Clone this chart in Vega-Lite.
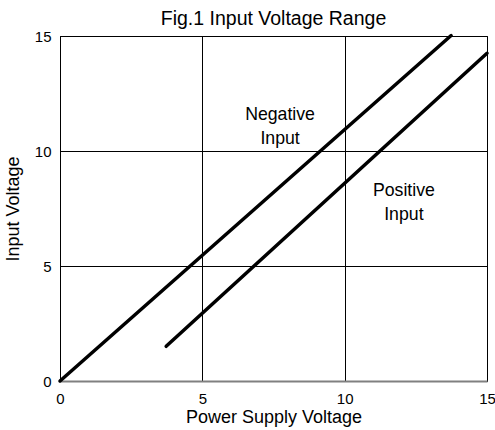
{
  "$schema": "https://vega.github.io/schema/vega-lite/v6.json",
  "width": 427,
  "height": 345,
  "autosize": "none",
  "padding": {"left": 60, "top": 36, "right": 8, "bottom": 49},
  "background": "white",
  "config": {
    "font": "Liberation Sans",
    "view": {"stroke": "black", "strokeWidth": 1},
    "axis": {"grid": true, "gridColor": "black", "gridOpacity": 1, "gridWidth": 1, "labelFont": "Liberation Sans", "titleFont": "Liberation Sans", "labelFontSize": 15, "titleFontSize": 18, "titleFontWeight": "normal", "labelColor": "black", "titleColor": "black", "ticks": false}
  },
  "title": {"text": "Fig.1 Input Voltage Range", "fontSize": 19.5, "fontWeight": "normal", "font": "Liberation Sans", "color": "black", "offset": -1, "anchor": "middle", "frame": "group"},
  "datasets": {
    "lines": [
      {"series": "Negative", "v": 0, "u": 0},
      {"series": "Negative", "v": 13.74, "u": 15.02},
      {"series": "Positive", "v": 3.73, "u": 1.51},
      {"series": "Positive", "v": 15, "u": 14.25}
    ],
    "labels": [
      {"v": 7.73, "u": 11.56, "t": "Negative\nInput"},
      {"v": 12.08, "u": 8.25, "t": "Positive\nInput"}
    ]
  },
  "layer": [
    {
      "data": {"name": "lines"},
      "mark": {"type": "line", "color": "black", "strokeWidth": 3.5, "strokeCap": "round", "clip": false},
      "encoding": {
        "x": {"field": "v", "type": "quantitative", "scale": {"domain": [0, 15], "nice": false}, "axis": {"title": "Power Supply Voltage", "values": [0, 5, 10, 15], "labelPadding": 10, "titlePadding": 2, "domainColor": "#808080", "domainWidth": 2, "labelFlush": false}},
        "y": {"field": "u", "type": "quantitative", "scale": {"domain": [0, 15], "nice": false}, "axis": {"title": "Input Voltage", "values": [0, 5, 10, 15], "labelPadding": 9, "titlePadding": 12, "domainColor": "black", "domainWidth": 1, "labelFlush": false}},
        "detail": {"field": "series"}
      }
    },
    {
      "data": {"name": "labels"},
      "mark": {"type": "text", "fontSize": 17.7, "lineBreak": "\n", "lineHeight": 23.5, "color": "black", "font": "Liberation Sans"},
      "encoding": {
        "x": {"field": "v", "type": "quantitative"},
        "y": {"field": "u", "type": "quantitative"},
        "text": {"field": "t"}
      }
    }
  ]
}
